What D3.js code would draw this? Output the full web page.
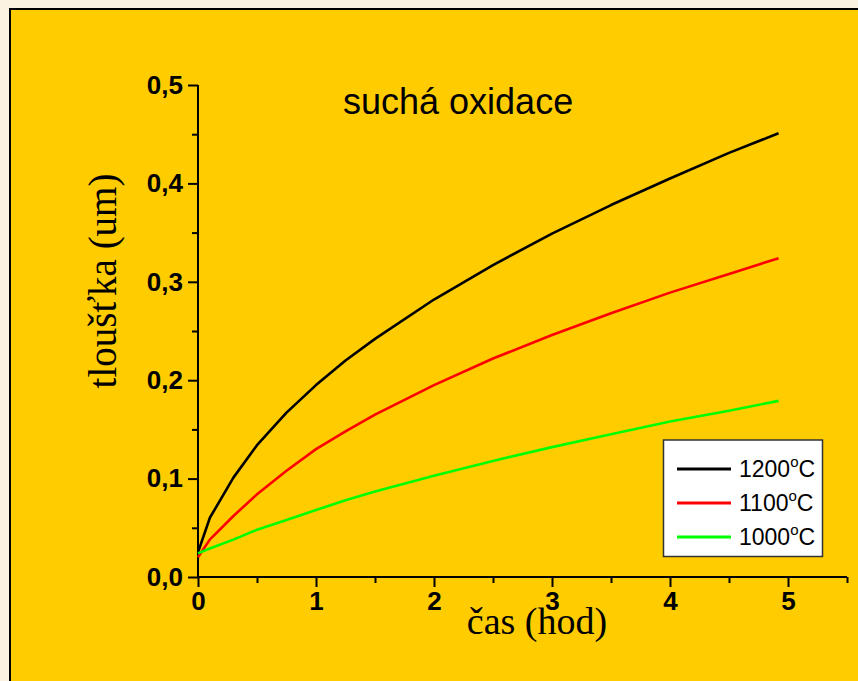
<!DOCTYPE html>
<html>
<head>
<meta charset="utf-8">
<script src="https://cdn.jsdelivr.net/npm/d3@7"></script>
<style>
  html, body { margin: 0; padding: 0; background: #FBF2E1; }
  svg { display: block; }
</style>
</head>
<body>
<svg id="chart" width="858" height="681"></svg>
<script>
// ---- data ----
const times = [0, 0.1, 0.3, 0.5, 0.75, 1, 1.25, 1.5, 2, 2.5, 3, 3.5, 4, 4.5, 4.92];
const t1200 = [0.025, 0.060, 0.101, 0.134, 0.167, 0.195, 0.220, 0.242, 0.282, 0.317, 0.349, 0.378, 0.405, 0.431, 0.451];
const t1100 = [0.020, 0.038, 0.062, 0.084, 0.108, 0.130, 0.148, 0.165, 0.195, 0.222, 0.246, 0.268, 0.289, 0.308, 0.324];
const t1000 = [0.024, 0.029, 0.038, 0.048, 0.058, 0.068, 0.078, 0.087, 0.103, 0.118, 0.132, 0.145, 0.158, 0.169, 0.179];
const seriesNames = ["1200", "1100", "1000"];
const seriesColors = ["#000000", "#FF0000", "#00FF00"];
const xTickValues = [0, 1, 2, 3, 4, 5];
const xMinorTicks = [0.5, 1.5, 2.5, 3.5, 4.5, 5.5];
const yTickValues = [0, 0.1, 0.2, 0.3, 0.4, 0.5];
const yTickLabels = ["0,0", "0,1", "0,2", "0,3", "0,4", "0,5"];
const yMinorTicks = [0.05, 0.15, 0.25, 0.35, 0.45];
const titleText = "suchá oxidace";
const xLabel = "čas (hod)";
const yLabel = "tloušťka (um)";

const svg = d3.select("#chart");

// gold panel
svg.append("rect").attr("x", 10).attr("y", 9).attr("width", 860).attr("height", 690)
  .attr("fill", "#FFCC00").attr("stroke", "#000").attr("stroke-width", 2);

const x = d3.scaleLinear().domain([0, 5.5]).range([198, 847]);
const y = d3.scaleLinear().domain([0, 0.5]).range([577, 85]);

const axFont = "'Liberation Sans', Arial, sans-serif";

// minor ticks
const yMinor = svg.append("g").attr("transform", `translate(${x(0)},0)`)
  .call(d3.axisLeft(y).tickValues(yMinorTicks).tickSize(6).tickFormat(""));
const xMinor = svg.append("g").attr("transform", `translate(0,${y(0)})`)
  .call(d3.axisBottom(x).tickValues(xMinorTicks).tickSize(6).tickFormat(""));

// major axes
const yAxis = svg.append("g").attr("transform", `translate(${x(0)},0)`)
  .call(d3.axisLeft(y).tickValues(yTickValues).tickSize(10).tickPadding(5)
    .tickFormat((d, i) => yTickLabels[i]));
const xAxis = svg.append("g").attr("transform", `translate(0,${y(0)})`)
  .call(d3.axisBottom(x).tickValues(xTickValues).tickSize(10).tickPadding(5)
    .tickFormat(d3.format("d")));

[yMinor, xMinor, yAxis, xAxis].forEach(g => {
  g.attr("font-size", null).attr("font-family", null);
  g.select(".domain").attr("stroke", "#000").attr("stroke-width", 2);
  g.selectAll(".tick line").attr("stroke", "#000").attr("stroke-width", 2);
  g.selectAll("text").attr("fill", "#000").style("font-family", axFont)
    .style("font-weight", "bold").style("font-size", "26px");
});
xMinor.select(".domain").attr("d", `M${x(0)},0H${x(5.5)}`);
yMinor.select(".domain").attr("d", `M0,${y(0)}V${y(0.5)}`);
xAxis.select(".domain").attr("d", `M${x(0)},0H${x(5.5)}`);
yAxis.select(".domain").attr("d", `M0,${y(0)}V${y(0.5)}`);

// lines
const allSeries = [t1200, t1100, t1000];
const line = d3.line().x(d => x(d[0])).y(d => y(d[1]));
allSeries.forEach((vals, i) => {
  svg.append("path")
    .datum(times.map((t, j) => [t, vals[j]]))
    .attr("fill", "none").attr("stroke", seriesColors[i]).attr("stroke-width", 2.6)
    .attr("stroke-linejoin", "round")
    .attr("d", line);
});

// title
svg.append("text").attr("x", 343).attr("y", 114)
  .style("font-family", axFont).style("font-size", "36px").attr("fill", "#000")
  .text(titleText);

// axis labels
svg.append("text").attr("x", 537).attr("y", 634).attr("text-anchor", "middle")
  .style("font-family", "'Liberation Serif', 'Times New Roman', serif").style("font-size", "38px")
  .attr("fill", "#000").text(xLabel);
svg.append("text").attr("transform", "translate(116,281) rotate(-90)").attr("text-anchor", "middle")
  .style("font-family", "'Liberation Serif', 'Times New Roman', serif").style("font-size", "39px")
  .attr("fill", "#000").text(yLabel);

// legend
const lg = svg.append("g");
lg.append("rect").attr("x", 663.5).attr("y", 440).attr("width", 159).attr("height", 116.5)
  .attr("fill", "#fff").attr("stroke", "#333").attr("stroke-width", 1.5);
const rowY = [469, 503, 537];
seriesNames.forEach((name, i) => {
  lg.append("line").attr("x1", 677).attr("x2", 731).attr("y1", rowY[i]).attr("y2", rowY[i])
    .attr("stroke", seriesColors[i]).attr("stroke-width", 3);
  const tx = lg.append("text").attr("x", 739).attr("y", rowY[i] + 8)
    .style("font-family", axFont).style("font-size", "23px").attr("fill", "#000");
  tx.append("tspan").text(name);
  tx.append("tspan").attr("dy", -10).style("font-size", "15px").text("o");
  tx.append("tspan").attr("dy", 10).text("C");
});
</script>
</body>
</html>
